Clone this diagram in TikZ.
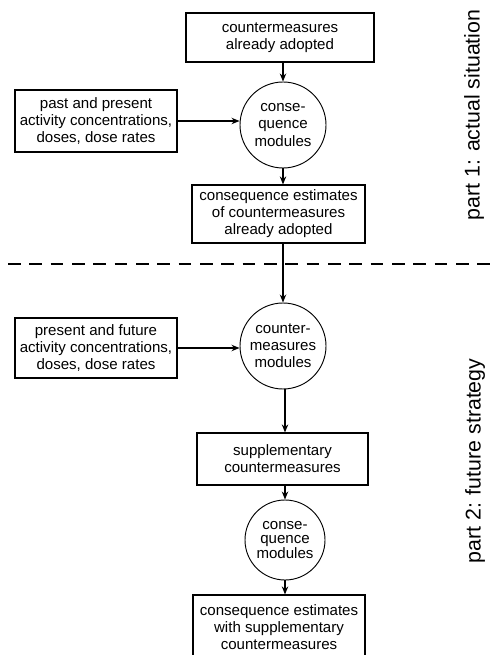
\documentclass[tikz,border=0pt]{standalone}
\usepackage{fontspec}
\setmainfont{Liberation Sans}
\usetikzlibrary{arrows.meta}
\begin{document}
\begin{tikzpicture}[x=0.75pt,y=-0.75pt,
  box/.style={draw,line width=0.85pt,align=center,inner sep=0pt,
    font=\fontsize{11.3}{12.8}\selectfont},
  module/.style={draw,circle,line width=0.7pt,align=center,inner sep=0pt,
    font=\fontsize{11.3}{12.8}\selectfont},
  arr/.style={line width=1.2pt,-{Stealth[length=6pt,width=4.8pt]}},
  partlabel/.style={rotate=90,inner sep=0pt,font=\fontsize{16}{18}\selectfont}]
\clip (0,0) rectangle (495,655);

% part 1: actual situation
\node[box,minimum width=141pt,minimum height=36.75pt] (adopted) at (280,37.5)
  {countermeasures\\already adopted};
\node[module,minimum size=64.5pt] (cons1) at (283,125)
  {conse-\\quence\\modules};
\node[box,minimum width=121.5pt,minimum height=46.5pt] (past) at (96,121)
  {past and present\\activity concentrations,\\doses, dose rates};
\node[box,minimum width=129.75pt,minimum height=43.5pt] (est1) at (278.5,214)
  {consequence estimates\\of countermeasures\\already adopted};

% boundary between the two parts
\coordinate (dl) at (8,264);
\coordinate (dr) at (495,264);
\draw[line width=0.8pt,dash pattern=on 9.5pt off 6.5pt] (dl) -- (dr);

% part 2: future strategy
\node[module,minimum size=64.5pt] (cm) at (283,346)
  {counter-\\measures\\modules};
\node[box,minimum width=121.5pt,minimum height=45pt] (future) at (96,348)
  {present and future\\activity concentrations,\\doses, dose rates};
\node[box,minimum width=128.25pt,minimum height=39pt] (supp) at (282.5,459)
  {supplementary\\countermeasures};
\node[module,minimum size=60pt,font=\fontsize{11.3}{10.8}\selectfont] (cons2) at (285,540)
  {conse-\\quence\\modules};
\node[box,minimum width=129pt,minimum height=48pt] (est2) at (279,627)
  {consequence estimates\\with supplementary\\countermeasures};

% side labels
\node[partlabel] (p1) at (474,115) {part 1: actual situation};
\node[partlabel] (p2) at (475,461) {part 2: future strategy};

% connectors
\draw[arr] (adopted.south -| cons1) -- (cons1.north);
\draw[arr] (past.east) -- (cons1.west |- past.east);
\draw[arr] (cons1.south) -- (cons1.south |- est1.north);
\draw[arr] (est1.south -| cm) -- (cm.north);
\draw[arr] (future.east) -- (cm.west |- future.east);
\draw[arr] ([xshift=1.5pt]cm.south) -- ([xshift=1.5pt]cm.south |- supp.north);
\draw[arr] (supp.south -| cons2) -- (cons2.north);
\draw[arr] (cons2.south) -- (cons2.south |- est2.north);
\end{tikzpicture}
\end{document}
